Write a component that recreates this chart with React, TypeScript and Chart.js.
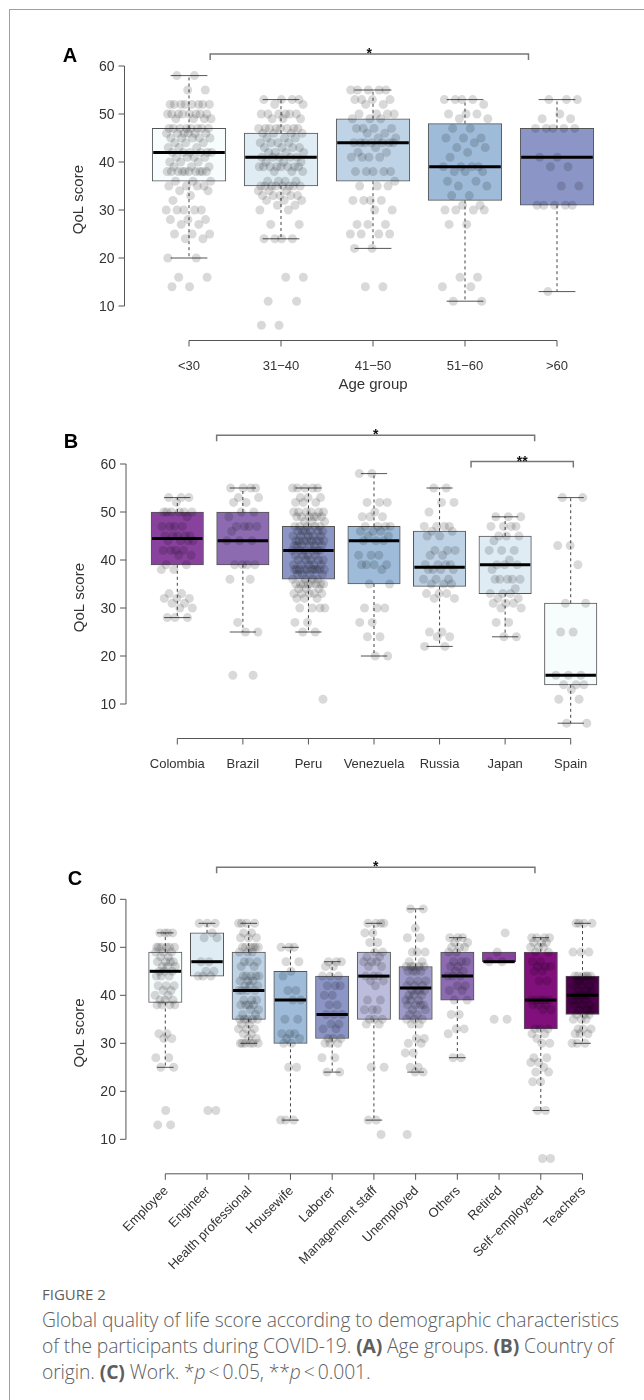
import React, { useEffect, useRef } from "react";
import { Chart, registerables } from "chart.js";
Chart.register(...registerables);

// ---------------- DATA ----------------
const Y_TICKS = [10, 20, 30, 40, 50, 60];

// Panel A: age groups
const AGE_GROUPS = ["<30", "31−40", "41−50", "51−60", ">60"];
const AGE_Q1 = [36, 35, 36, 32, 31];
const AGE_MED = [42, 41, 44, 39, 41];
const AGE_Q3 = [47, 46, 49, 48, 47];
const AGE_WLO = [20, 24, 22, 11, 13];
const AGE_WHI = [58, 53, 55, 53, 53];
const AGE_COLORS = ["#F7FCFD", "#E0ECF4", "#BFD3E6", "#9EBCDA", "#8C96C6"];
const AGE_LT30 = [58,58,55,55,52,52,52,52,52,52,52,52,50,50,50,50,50,50,50,50,49,49,49,49,47,47,47,47,47,47,47,47,46,46,46,46,46,46,45,45,45,45,45,44,44,44,43,43,43,42,42,42,42,42,42,41,41,41,41,40,40,40,39,39,39,38,38,38,38,38,38,38,38,38,38,36,36,36,35,35,35,35,34,34,33,32,30,30,30,30,30,28,28,28,27,27,25,25,25,24,24,20,20,16,16,14,14];
const AGE_31_40 = [53,53,53,53,52,52,50,50,50,50,50,50,49,49,49,47,47,47,47,47,47,47,47,46,46,46,46,45,45,45,44,44,44,44,43,43,43,43,42,42,42,42,41,41,41,41,41,40,40,40,39,39,39,39,39,39,39,39,38,38,38,36,36,36,36,35,35,35,35,35,35,35,35,34,34,34,33,33,33,33,33,32,32,32,31,31,30,30,27,27,24,24,24,24,16,16,11,11,6,6];
const AGE_41_50 = [55,55,55,55,55,53,53,53,53,52,52,50,50,50,50,49,49,49,47,47,47,47,46,46,45,45,44,44,44,44,44,44,44,43,42,42,41,41,41,41,38,38,38,38,38,36,35,35,35,32,32,32,32,30,30,27,27,27,25,25,25,25,22,22,14,14];
const AGE_51_60 = [53,53,53,53,52,50,50,50,49,49,47,47,45,45,45,44,43,43,42,41,39,39,39,39,38,38,38,36,36,35,35,33,33,31,31,30,30,30,30,27,27,16,16,14,14,11,11];
const AGE_GT60 = [53,53,53,50,49,49,47,47,47,47,47,41,41,39,39,35,35,31,31,31,31,31,13];

// Panel B: country
const COUNTRIES = ["Colombia", "Brazil", "Peru", "Venezuela", "Russia", "Japan", "Spain"];
const CTRY_Q1 = [39, 39, 36, 35, 34.5, 33, 14];
const CTRY_MED = [44.5, 44, 42, 44, 38.5, 39, 16];
const CTRY_Q3 = [50, 50, 47, 47, 46, 45, 31];
const CTRY_WLO = [28, 25, 25, 20, 22, 24, 6];
const CTRY_WHI = [53, 55, 55, 58, 55, 49, 53];
const CTRY_COLORS = ["#88419D", "#8C6BB1", "#8C96C6", "#9EBCDA", "#BFD3E6", "#E0ECF4", "#F7FCFD"];
const B_COLOMBIA = [53,53,53,52,50,50,50,50,50,50,49,47,47,47,47,45,45,45,45,45,44,44,44,44,42,42,42,42,41,41,39,39,38,38,33,33,32,32,32,31,31,30,30,28,28,28];
const B_BRAZIL = [55,55,55,55,53,53,52,52,50,50,49,47,47,47,47,46,44,44,44,39,39,39,39,36,36,27,25,25,16,16];
const B_PERU = [55,55,55,55,55,53,53,53,52,52,52,50,50,50,50,50,50,49,49,49,49,49,49,48,48,48,47,47,47,47,47,46,46,46,46,46,46,45,45,45,45,45,44,44,44,44,44,44,44,44,43,43,43,43,43,43,42,42,42,42,42,42,41,41,41,41,40,40,40,40,40,39,39,39,39,39,38,38,38,38,38,38,38,38,38,38,37,37,37,37,36,36,36,36,35,35,35,35,35,35,35,35,34,34,34,33,33,33,33,33,32,32,32,30,30,30,30,27,27,25,25,11];
const B_VENEZUELA = [58,58,52,52,52,50,49,49,49,47,47,47,47,46,46,46,45,45,44,44,44,41,41,41,39,39,39,39,38,35,35,30,30,30,27,27,24,24,20,20];
const B_RUSSIA = [55,55,52,52,50,47,47,47,47,46,46,45,45,42,42,42,41,41,39,39,39,39,38,38,38,38,36,36,36,35,35,35,33,33,33,32,32,25,25,24,24,22,22];
const B_JAPAN = [49,49,49,47,47,47,47,45,45,45,44,42,42,42,40,39,39,39,38,36,36,36,36,36,34,33,33,33,32,32,31,31,31,30,30,27,27,24,24];
const B_SPAIN = [53,53,43,43,39,31,31,25,25,16,16,16,14,14,14,13,11,11,6,6];

// Panel C: work
const JOBS = ["Employee", "Engineer", "Health professional", "Housewife", "Laborer", "Management staff", "Unemployed", "Others", "Retired", "Self−employeed", "Teachers"];
const JOB_Q1 = [38.5, 44, 35, 30, 31, 35, 35, 39, 47, 33, 36];
const JOB_MED = [45, 47, 41, 39, 36, 44, 41.5, 44, 47, 39, 40];
const JOB_Q3 = [49, 53, 49, 45, 44, 49, 46, 49, 49, 49, 44];
const JOB_WLO = [25, 44, 30, 14, 24, 14, 24, 27, 47, 16, 30];
const JOB_WHI = [53, 55, 55, 50, 47, 55, 58, 52, 49, 52, 55];
const JOB_COLORS = ["#F7FCFD", "#E0ECF4", "#BFD3E6", "#9EBCDA", "#8C96C6", "#BCBDDC", "#9E9AC8", "#8C6BB1", "#88419D", "#810F7C", "#4D004B"];
const C_EMPLOYEE = [53,53,53,53,50,50,50,50,50,50,49,49,49,48,48,47,47,47,47,46,46,46,45,45,45,44,44,44,42,42,42,41,41,40,40,39,39,39,38,38,38,38,32,32,31,31,27,27,25,25,16,13,13];
const C_ENGINEER = [55,55,55,53,52,52,47,47,45,45,44,44,44,16,16];
const C_HEALTH = [55,55,55,55,53,53,52,52,52,50,50,50,50,50,50,49,49,49,47,47,47,46,46,44,44,44,44,44,43,43,43,42,42,42,41,41,41,41,39,39,39,38,38,38,38,37,37,36,36,35,35,35,35,35,34,34,33,33,33,32,32,31,31,30,30,30,30,30,30];
const C_HOUSEWIFE = [50,50,50,47,47,45,44,41,41,39,39,35,35,32,32,32,31,31,30,30,25,25,14,14,14];
const C_LABORER = [47,47,47,46,46,44,44,44,42,42,42,40,40,38,38,36,36,36,34,34,33,33,31,31,31,30,30,30,27,27,24,24];
const C_MANAGEMENT = [55,55,55,55,53,53,51,51,49,49,48,48,47,47,47,46,46,44,44,44,43,43,42,39,39,37,37,37,35,35,35,34,34,25,25,14,14,11];
const C_UNEMPLOYED = [58,58,54,52,52,49,49,49,47,47,46,46,46,46,46,45,45,45,45,43,43,43,42,42,42,41,41,41,41,40,40,40,39,39,39,38,38,38,38,37,37,36,36,35,35,35,34,34,31,31,30,30,28,28,25,25,24,24,11];
const C_OTHERS = [52,52,52,51,51,50,50,50,49,49,47,47,47,46,46,45,45,44,44,44,42,42,41,41,39,39,36,36,33,33,32,27,27];
const C_RETIRED = [53,49,47,47,35,35];
const C_SELFEMP = [52,52,52,52,51,51,51,50,50,50,49,49,47,47,46,46,46,45,45,43,43,39,39,39,39,39,38,38,38,37,37,33,33,33,32,32,31,30,30,27,27,26,26,25,24,24,22,22,16,16,6,6];
const C_TEACHERS = [55,55,55,55,49,49,49,44,44,44,44,44,44,43,43,43,43,42,42,42,41,41,41,40,40,40,40,39,39,39,38,38,38,37,37,37,36,36,36,35,35,35,33,33,33,32,32,32,30,30,30];

// ---------------- LAYOUT / STYLE ----------------
const FONT = '"Liberation Sans", Arial, Helvetica, sans-serif';
const Y_MIN = 0;
const Y_MAX = 66;
const W = 644;

type Bracket = { from: number; to: number; y: number; label: string };
type PanelDef = {
  letter: string;
  labels: string[];
  q1: number[]; med: number[]; q3: number[]; wlo: number[]; whi: number[];
  colors: string[];
  points: number[][];
  top: number; height: number;
  y60: number; y10: number; xFirst: number; xLast: number;
  letterX: number; letterY: number;
  brackets: Bracket[];
  xTitle?: string;
  rotated?: boolean;
};

const PANELS: PanelDef[] = [
  {
    letter: "A", labels: AGE_GROUPS, q1: AGE_Q1, med: AGE_MED, q3: AGE_Q3, wlo: AGE_WLO, whi: AGE_WHI,
    colors: AGE_COLORS, points: [AGE_LT30, AGE_31_40, AGE_41_50, AGE_51_60, AGE_GT60],
    top: 0, height: 400, y60: 66, y10: 306, xFirst: 189, xLast: 557,
    letterX: 70, letterY: 56, brackets: [{ from: 0.23, to: 3.69, y: 62.5, label: "*" }],
    xTitle: "Age group",
  },
  {
    letter: "B", labels: COUNTRIES, q1: CTRY_Q1, med: CTRY_MED, q3: CTRY_Q3, wlo: CTRY_WLO, whi: CTRY_WHI,
    colors: CTRY_COLORS, points: [B_COLOMBIA, B_BRAZIL, B_PERU, B_VENEZUELA, B_RUSSIA, B_JAPAN, B_SPAIN],
    top: 400, height: 410, y60: 64, y10: 304, xFirst: 177.3, xLast: 570.7,
    letterX: 71, letterY: 42, brackets: [
      { from: 0.6, to: 5.45, y: 66, label: "*" },
      { from: 4.48, to: 6.04, y: 60.5, label: "**" },
    ],
  },
  {
    letter: "C", labels: JOBS, q1: JOB_Q1, med: JOB_MED, q3: JOB_Q3, wlo: JOB_WLO, whi: JOB_WHI,
    colors: JOB_COLORS,
    points: [C_EMPLOYEE, C_ENGINEER, C_HEALTH, C_HOUSEWIFE, C_LABORER, C_MANAGEMENT, C_UNEMPLOYED, C_OTHERS, C_RETIRED, C_SELFEMP, C_TEACHERS],
    top: 810, height: 470, y60: 89.3, y10: 329.3, xFirst: 165.3, xLast: 582.5,
    letterX: 75, letterY: 69, brackets: [{ from: 1.23, to: 8.86, y: 66.7, label: "*" }],
    rotated: true,
  },
];

function jitter(group: number, k: number): number {
  const f = ((k + 1) * 0.6180339887 + group * 0.2718281828) % 1;
  return (f - 0.5) * 0.5;
}

function Panel({ P }: { P: PanelDef }) {
  const ref = useRef<HTMLCanvasElement | null>(null);
  useEffect(() => {
    const canvas = ref.current;
    if (!canvas) return;
    const n = P.labels.length;
    const ppu = (P.y10 - P.y60) / 50;
    const topPx = P.y60 - (Y_MAX - 60) * ppu;
    const botPx = P.y10 + (10 - Y_MIN) * ppu;
    const sp = (P.xLast - P.xFirst) / (n - 1);
    const leftPx = P.xFirst - sp / 2;
    const rightPx = P.xLast + sp / 2;

    const scatterData: { x: number; y: number }[] = [];
    P.points.forEach((arr, i) => arr.forEach((v, k) => scatterData.push({ x: i + jitter(i, k), y: v })));

    const plugin = {
      id: "boxdecor" + P.letter,
      afterDatasetDraw(chart: any, args: any) {
        if (args.index !== 0) return;
        const ctx = chart.ctx;
        const xs = chart.scales.x, ys = chart.scales.y;
        const bw = (xs.getPixelForValue(1) - xs.getPixelForValue(0)) * 0.8;
        ctx.save();
        for (let i = 0; i < n; i++) {
          const cx = xs.getPixelForValue(i);
          ctx.strokeStyle = "#444";
          ctx.lineWidth = 1;
          ctx.setLineDash([3, 3]);
          if (P.whi[i] > P.q3[i]) {
            ctx.beginPath(); ctx.moveTo(cx, ys.getPixelForValue(P.q3[i])); ctx.lineTo(cx, ys.getPixelForValue(P.whi[i])); ctx.stroke();
          }
          if (P.wlo[i] < P.q1[i]) {
            ctx.beginPath(); ctx.moveTo(cx, ys.getPixelForValue(P.q1[i])); ctx.lineTo(cx, ys.getPixelForValue(P.wlo[i])); ctx.stroke();
          }
          ctx.setLineDash([]);
          ctx.strokeStyle = "#555";
          if (P.whi[i] > P.q3[i]) {
            const y = ys.getPixelForValue(P.whi[i]);
            ctx.beginPath(); ctx.moveTo(cx - bw / 4, y); ctx.lineTo(cx + bw / 4, y); ctx.stroke();
          }
          if (P.wlo[i] < P.q1[i]) {
            const y = ys.getPixelForValue(P.wlo[i]);
            ctx.beginPath(); ctx.moveTo(cx - bw / 4, y); ctx.lineTo(cx + bw / 4, y); ctx.stroke();
          }
          const ym = ys.getPixelForValue(P.med[i]);
          ctx.strokeStyle = "#000";
          ctx.lineWidth = 3;
          ctx.beginPath(); ctx.moveTo(cx - bw / 2 + 1, ym); ctx.lineTo(cx + bw / 2 - 1, ym); ctx.stroke();
        }
        ctx.restore();
      },
      afterDraw(chart: any) {
        const ctx = chart.ctx;
        const xs = chart.scales.x, ys = chart.scales.y;
        const area = chart.chartArea;
        ctx.save();
        // y axis
        const ax = area.left - 18.5;
        ctx.strokeStyle = "#555";
        ctx.lineWidth = 1;
        ctx.beginPath();
        ctx.moveTo(ax, ys.getPixelForValue(Y_TICKS[0]));
        ctx.lineTo(ax, ys.getPixelForValue(Y_TICKS[Y_TICKS.length - 1]));
        ctx.stroke();
        ctx.fillStyle = "#333";
        ctx.font = `14px ${FONT}`;
        ctx.textAlign = "right";
        ctx.textBaseline = "middle";
        Y_TICKS.forEach((t) => {
          const y = ys.getPixelForValue(t);
          ctx.beginPath(); ctx.moveTo(ax - 6, y); ctx.lineTo(ax, y); ctx.stroke();
          ctx.fillText(String(t), ax - 10, y + 1);
        });
        // y title
        ctx.save();
        ctx.translate(ax - 46, (area.top + area.bottom) / 2 + 4);
        ctx.rotate(-Math.PI / 2);
        ctx.textAlign = "center";
        ctx.font = `15px ${FONT}`;
        ctx.fillText("QoL score", 0, 0);
        ctx.restore();
        // x axis
        const ay = ys.getPixelForValue(Y_TICKS[0]) + 34.5;
        ctx.beginPath();
        ctx.moveTo(xs.getPixelForValue(0), ay);
        ctx.lineTo(xs.getPixelForValue(n - 1), ay);
        ctx.stroke();
        for (let i = 0; i < n; i++) {
          const x = xs.getPixelForValue(i);
          ctx.beginPath(); ctx.moveTo(x, ay); ctx.lineTo(x, ay + 6); ctx.stroke();
          if (P.rotated) {
            ctx.save();
            ctx.translate(x + 1, ay + 15);
            ctx.rotate(-Math.PI / 4);
            ctx.font = `13px ${FONT}`;
            ctx.textAlign = "right";
            ctx.textBaseline = "middle";
            ctx.fillText(P.labels[i], 0, 0);
            ctx.restore();
          } else {
            ctx.font = `13px ${FONT}`;
            ctx.textAlign = "center";
            ctx.textBaseline = "middle";
            ctx.fillText(P.labels[i], x, ay + 26);
          }
        }
        if (P.xTitle) {
          ctx.font = `15px ${FONT}`;
          ctx.textAlign = "center";
          ctx.textBaseline = "middle";
          ctx.fillText(P.xTitle, (xs.getPixelForValue(0) + xs.getPixelForValue(n - 1)) / 2, ay + 44);
        }
        // brackets
        P.brackets.forEach((b) => {
          const x1 = xs.getPixelForValue(b.from), x2 = xs.getPixelForValue(b.to);
          const y = ys.getPixelForValue(b.y);
          ctx.strokeStyle = "#777";
          ctx.lineWidth = 1.5;
          ctx.beginPath();
          ctx.moveTo(x1, y + 6); ctx.lineTo(x1, y); ctx.lineTo(x2, y); ctx.lineTo(x2, y + 6);
          ctx.stroke();
          ctx.fillStyle = "#111";
          ctx.font = `bold 14px ${FONT}`;
          ctx.textAlign = "center";
          ctx.textBaseline = "alphabetic";
          ctx.fillText(b.label, (x1 + x2) / 2, y + 4);
        });
        // panel letter
        ctx.fillStyle = "#000";
        ctx.font = `bold 20px ${FONT}`;
        ctx.textAlign = "center";
        ctx.textBaseline = "middle";
        ctx.fillText(P.letter, P.letterX, P.letterY);
        ctx.restore();
      },
    };

    const chart = new Chart(canvas, {
      type: "bar",
      data: {
        datasets: [
          {
            type: "bar",
            data: P.labels.map((_, i) => ({ x: i, y: [P.q1[i], P.q3[i]] })) as any,
            backgroundColor: P.colors,
            borderColor: "#555",
            borderWidth: 1,
            borderSkipped: false,
            barThickness: sp * 0.8,
            order: 2,
          } as any,
          {
            type: "scatter",
            data: scatterData,
            pointRadius: 4.5,
            pointBackgroundColor: "rgba(0,0,0,0.15)",
            pointBorderWidth: 0,
            pointHoverRadius: 4.5,
            clip: false,
            order: 1,
          } as any,
        ],
      },
      options: {
        responsive: false,
        animation: false,
        devicePixelRatio: 1,
        events: [],
        layout: { padding: { left: leftPx, right: W - rightPx, top: topPx, bottom: P.height - botPx } },
        plugins: { legend: { display: false }, tooltip: { enabled: false } },
        scales: {
          x: { type: "linear", min: -0.5, max: n - 0.5, display: false, offset: false },
          y: { type: "linear", min: Y_MIN, max: Y_MAX, display: false },
        },
      } as any,
      plugins: [plugin as any],
    });
    return () => chart.destroy();
  }, [P]);
  return (
    <canvas
      ref={ref}
      width={W}
      height={P.height}
      style={{ position: "absolute", left: 0, top: P.top, width: W, height: P.height }}
    />
  );
}

export default function App() {
  const capFont = '"Open Sans", "Noto Sans", sans-serif';
  const line: React.CSSProperties = { whiteSpace: "nowrap", height: 26 };
  return (
    <div style={{ position: "absolute", left: 0, top: 0, width: W, height: 1400, background: "#fff", overflow: "hidden" }}>
      <div style={{ position: "absolute", left: 9, top: 9, right: 0, bottom: 0, borderLeft: "1px solid #a0a0a0", borderTop: "1px solid #a0a0a0" }} />
      {PANELS.map((P) => (
        <Panel key={P.letter} P={P} />
      ))}
      <div style={{ position: "absolute", left: 42, top: 1284, width: 600, fontFamily: capFont, color: "#5e5e5e" }}>
        <div style={{ fontSize: 15, lineHeight: "20px" }}>FIGURE 2</div>
        <div style={{ fontSize: 19.3, lineHeight: "26px", fontWeight: 300, marginTop: 3, letterSpacing: "-0.1px" }}>
          <div style={line}>Global quality of life score according to demographic characteristics</div>
          <div style={line}>
            of the participants during COVID-19. <b style={{ fontWeight: 700 }}>(A)</b> Age groups.{" "}
            <b style={{ fontWeight: 700 }}>(B)</b> Country of
          </div>
          <div style={line}>
            origin. <b style={{ fontWeight: 700 }}>(C)</b> Work. *<i>p</i>&thinsp;&lt;&thinsp;0.05, **<i>p</i>&thinsp;&lt;&thinsp;0.001.
          </div>
        </div>
      </div>
    </div>
  );
}
